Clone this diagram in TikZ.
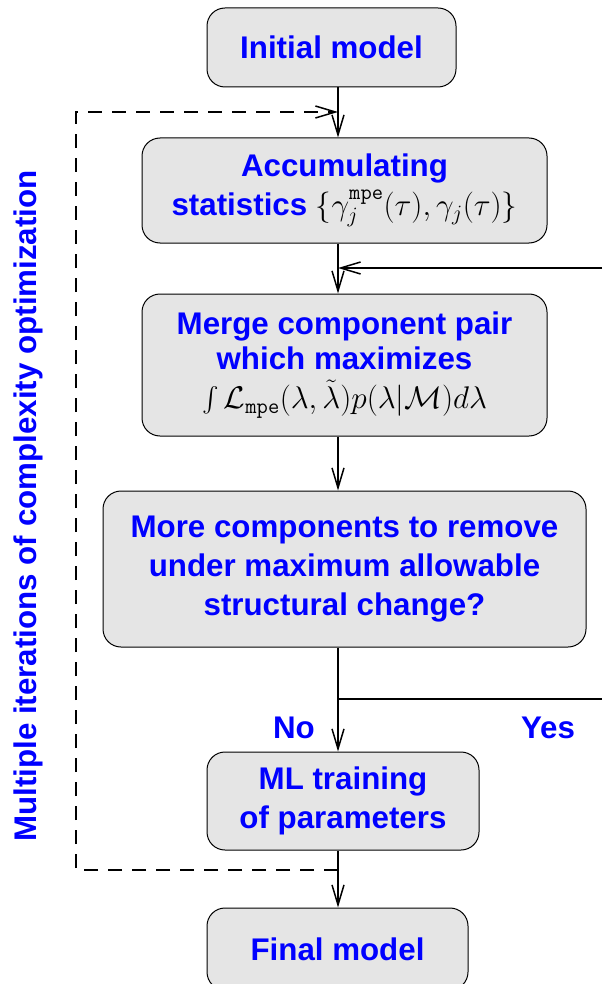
\RequirePackage{fix-cm}
\documentclass[tikz,border=0pt]{standalone}
\usepackage{amsmath}
\usepackage{fontspec}
\setsansfont{Liberation Sans}
\usepackage{xcolor}
\usepackage{tikz}
\usetikzlibrary{arrows.meta,positioning}
\definecolor{boxgray}{RGB}{229,229,229}
\definecolor{txtblue}{RGB}{0,0,255}
\newcommand{\blk}[1]{\textcolor{black}{#1}}

\begin{document}
\begin{tikzpicture}[x=1pt,y=-1pt,
  stage/.style={draw,line width=1pt,rounded corners=18pt,fill=boxgray,align=center,
    font=\fontsize{31.3}{39}\selectfont\sffamily\bfseries,text=txtblue,inner sep=0pt},
  flow/.style={-{Straight Barb[length=20pt,width=12pt]},line width=1.5pt},
  loopback/.style={flow,dash pattern=on 14pt off 10pt},
  lab/.style={font=\fontsize{31.3}{39}\selectfont\sffamily\bfseries,text=txtblue}]
\useasboundingbox (0,0) rectangle (602,984);
\coordinate (spine) at (338,0);
\node[stage,minimum width=249pt,minimum height=79pt] (init) at (331.5,47.5) {Initial model};
\node[stage,minimum width=405pt,minimum height=105pt] (accum) at (344.5,190.5)
  {Accumulating\\statistics \blk{$\{\gamma_j^{\mathtt{mpe}}(\tau),\gamma_j(\tau)\}$}};
\node[stage,minimum width=405pt,minimum height=142pt] (merge) at (344.5,365)
  {Merge component pair\\[-4pt]which maximizes\\
   \blk{$\int\mathcal{L}_{\mathtt{mpe}}(\lambda,\tilde{\lambda})p(\lambda|\mathcal{M})d\lambda$}};
\node[stage,minimum width=483pt,minimum height=156pt] (more) at (344.5,569)
  {More components to remove\\under maximum allowable\\structural change?};
\node[stage,minimum width=272pt,minimum height=98pt] (mltrain) at (343,801)
  {ML training\\of parameters};
\node[stage,minimum width=261pt,minimum height=82pt] (final) at (337.5,949) {Final model};
\node[lab] (no) at (294,728) {No};
\node[lab] (yes) at (548,728) {Yes};
\node[lab,rotate=90] (iters) at (28,506) {Multiple iterations of complexity optimization};
\draw[flow] (init.south -| spine) -- (accum.north -| spine);
\draw[flow] (accum.south -| spine) -- (merge.north -| spine);
\draw[flow] (merge.south -| spine) -- (more.north -| spine);
\draw[flow] (more.south -| spine) -- (mltrain.north -| spine);
\draw[flow] (mltrain.south -| spine) -- (final.north -| spine);
% yes branch leaves the picture on the right and comes back above the merge step
\coordinate (yesout) at (602,699);
\coordinate (yesin) at (602,268);
\draw[line width=1.5pt] (yesout -| spine) -- (yesout);
\draw[flow] (yesin) -- (yesin -| spine);
% outer iteration loop
\coordinate (lpbot) at (338,870);
\coordinate (lptop) at (338,112);
\coordinate (lpleft) at (76,0);
\draw[loopback] (lpbot) -| (lpleft |- lptop) -- (lptop);
\end{tikzpicture}
\end{document}
